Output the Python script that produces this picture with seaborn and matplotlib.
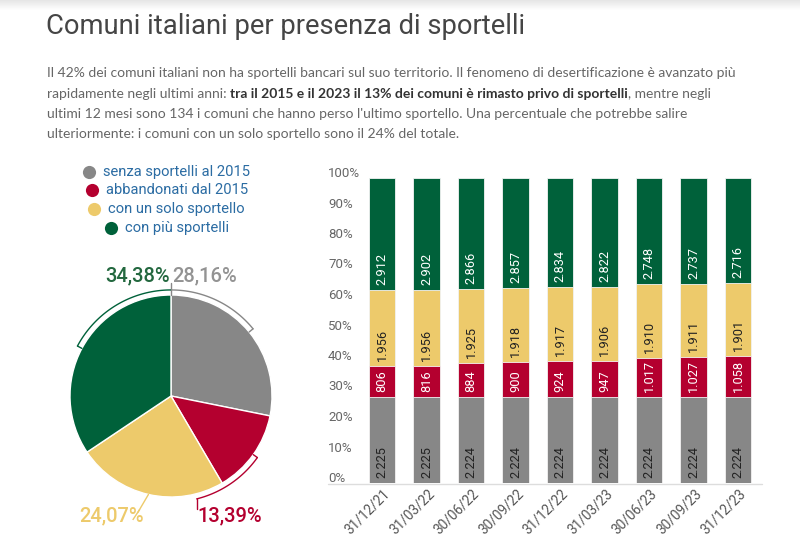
import matplotlib
matplotlib.use("Agg")
import matplotlib.pyplot as plt
import seaborn as sns
import numpy as np
import pandas as pd
from matplotlib import transforms

# ---------------- data ----------------
dates = ["31/12/21", "31/03/22", "30/06/22", "30/09/22", "31/12/22",
         "31/03/23", "30/06/23", "30/09/23", "31/12/23"]
senza = [2225, 2225, 2224, 2224, 2224, 2224, 2224, 2224, 2224]
abbandonati = [806, 816, 884, 900, 924, 947, 1017, 1027, 1058]
solo = [1956, 1956, 1925, 1918, 1917, 1906, 1910, 1911, 1901]
piu = [2912, 2902, 2866, 2857, 2834, 2822, 2748, 2737, 2716]

series_names = ["senza sportelli al 2015", "abbandonati dal 2015",
                "con un solo sportello", "con più sportelli"]
pie_values = [28.16, 13.39, 24.07, 34.38]
pie_text = ["28,16%", "13,39%", "24,07%", "34,38%"]
y_ticks = [0, 10, 20, 30, 40, 50, 60, 70, 80, 90, 100]

colors = ["#878787", "#B4002F", "#EDCA6B", "#00613A"]
label_colors = ["#939393", "#B4002F", "#EDCA6B", "#23683F"]
seg_text_colors = ["#222222", "#ffffff", "#222222", "#ffffff"]

title = "Comuni italiani per presenza di sportelli"
body_lines = [
    [("Il 42% dei comuni italiani non ha sportelli bancari sul suo territorio. Il fenomeno di desertificazione è avanzato più", False)],
    [("rapidamente negli ultimi anni:", False), (" ", False),
     ("tra il 2015 e il 2023 il 13% dei comuni è rimasto privo di sportelli", True),
     (", mentre negli", False)],
    [("ultimi 12 mesi sono 134 i comuni che hanno perso l'ultimo sportello. Una percentuale che potrebbe salire", False)],
    [("ulteriormente: i comuni con un solo sportello sono il 24% del totale.", False)],
]

# ---------------- setup ----------------
sns.set_theme(style="white")
plt.rcParams['font.family'] = ['Roboto', 'DejaVu Sans']

W, H = 800, 553
fig = plt.figure(figsize=(W / 100, H / 100), dpi=100)
fig.patch.set_facecolor("white")

# overlay axes in pixel coordinates (for text / legend / furniture)
ov = fig.add_axes([0, 0, 1, 1])
ov.set_xlim(0, W)
ov.set_ylim(H, 0)
ov.axis("off")

# faint top shadow
grad = np.linspace(0.90, 1.0, 50).reshape(-1, 1)
ov.imshow(np.dstack([grad, grad, grad]), extent=[0, W, 10, 0], aspect="auto", zorder=0)

# title
ov.text(46, 27, title, fontsize=19.7, color="#454545", va="center", ha="left",
        family=["Roboto", "DejaVu Sans"])

# body text with inline bold
renderer = fig.canvas.get_renderer()
body_font = ["Lato", "DejaVu Sans"]
body_size = 10.0
line_y = [73, 94, 114, 134]
for ly, pieces in zip(line_y, body_lines):
    x = 47.0
    for txt, bold in pieces:
        if txt == " ":
            a = ov.text(0, 0, "x x", fontsize=body_size, family=body_font)
            b = ov.text(0, 0, "xx", fontsize=body_size, family=body_font)
            x += a.get_window_extent(renderer).width - b.get_window_extent(renderer).width
            a.remove(); b.remove()
            continue
        t = ov.text(x, ly, txt, fontsize=body_size, family=body_font,
                    fontweight="bold" if bold else "normal",
                    color="#333333" if bold else "#666666", va="center", ha="left")
        x += t.get_window_extent(renderer).width

# legend
leg_y = [172, 190, 209, 228]
leg_cx = [89, 92, 94, 111]
for i, name in enumerate(series_names):
    ov.scatter([leg_cx[i]], [leg_y[i]], s=90, color=colors[i], zorder=3, linewidths=0)
    ov.text(leg_cx[i] + 14, leg_y[i], name, fontsize=10.6, color="#2B6CA3",
            va="center", ha="left")

# baseline of the bar chart
ov.plot([328, 762], [483.5, 483.5], color="#dddddd", lw=1, zorder=1)

# ---------------- pie ----------------
cx, cy, r = 171, 396, 101
ax_pie = fig.add_axes([(cx - r) / W, 1 - (cy + r) / H, 2 * r / W, 2 * r / H])
ax_pie.pie(pie_values, colors=colors, startangle=90, counterclock=False,
           wedgeprops=dict(edgecolor="white", linewidth=1))
ax_pie.set_xlim(-1, 1)
ax_pie.set_ylim(-1, 1)
ax_pie.axis("off")

# slice angles
cum = np.cumsum([0] + pie_values)
starts = 90 - cum[:-1] * 3.6
ends = 90 - cum[1:] * 3.6
mids = (starts + ends) / 2
R2 = 1.05


def arc_pts(a0, a1, rr, n=60):
    th = np.radians(np.linspace(a0, a1, n))
    return rr * np.cos(th), rr * np.sin(th)


# gray: arc from mid to top
xs, ys = arc_pts(mids[0], 90, R2)
ax_pie.plot(xs, ys, color=colors[0], lw=1, clip_on=False)
m = np.radians(mids[0])
ax_pie.plot([np.cos(m), R2 * np.cos(m)], [np.sin(m), R2 * np.sin(m)], color=colors[0], lw=1, clip_on=False)
# green: arc from top to mid
xs, ys = arc_pts(90, mids[3] + 360 if mids[3] < 0 else mids[3], R2)
ax_pie.plot(xs, ys, color=colors[3], lw=1, clip_on=False)
m = np.radians(mids[3])
ax_pie.plot([np.cos(m), R2 * np.cos(m)], [np.sin(m), R2 * np.sin(m)], color=colors[3], lw=1, clip_on=False)
# shared vertical tick at top
ax_pie.plot([0, 0], [1.0, 1.12], color=colors[0], lw=1, clip_on=False)
# red: arc from mid down to -76, then vertical
xs, ys = arc_pts(mids[1], -76, R2)
ax_pie.plot(xs, ys, color=colors[1], lw=1, clip_on=False)
m = np.radians(mids[1])
ax_pie.plot([np.cos(m), R2 * np.cos(m)], [np.sin(m), R2 * np.sin(m)], color=colors[1], lw=1, clip_on=False)
ax_pie.plot([xs[-1], xs[-1]], [ys[-1], -1.12], color=colors[1], lw=1, clip_on=False)
# yellow: straight connector
m = np.radians(mids[2])
ax_pie.plot([np.cos(m), 1.2 * np.cos(m - np.radians(3))], [np.sin(m), 1.2 * np.sin(m - np.radians(3))],
            color=colors[2], lw=1, clip_on=False)

lab_pos = [(0.01, 1.19, "left"), (0.26, -1.19, "left"), (-0.27, -1.19, "right"), (-0.01, 1.19, "right")]
for i, (lx, ly, ha) in enumerate(lab_pos):
    ax_pie.text(lx, ly, pie_text[i], color=label_colors[i], fontsize=14.5, ha=ha, va="center",
                fontweight="medium", clip_on=False)

# ---------------- stacked bars ----------------
df = pd.DataFrame({"date": dates, "senza": senza, "abbandonati": abbandonati,
                   "solo": solo, "piu": piu})
cols = ["senza", "abbandonati", "solo", "piu"]
tot = df[cols].sum(axis=1)
pct = df[cols].div(tot, axis=0) * 100
cum_pct = pct.cumsum(axis=1)

ax_bar = fig.add_axes([360 / W, 1 - 483 / H, (762 - 360) / W, (483 - 178) / H])
ax_bar.set_facecolor("none")
for j in reversed(range(4)):
    sns.barplot(x=df["date"], y=cum_pct[cols[j]], color=colors[j], saturation=1,
                width=0.6, errorbar=None, ax=ax_bar, edgecolor="#f4f4f4", linewidth=0.6,
                order=dates)

ax_bar.set_xlim(-0.494, 8.54)
ax_bar.set_ylim(0, 100)
ax_bar.set_xlabel("")
ax_bar.set_ylabel("")
for s in ax_bar.spines.values():
    s.set_visible(False)

# segment value labels
for j in range(4):
    bottoms = (cum_pct[cols[j]] - pct[cols[j]]).values
    vals = df[cols[j]].values
    for i in range(len(dates)):
        ax_bar.annotate(f"{vals[i]:,}".replace(",", "."), xy=(i, bottoms[i]),
                        xytext=(0, 3.6), textcoords="offset points",
                        rotation=90, rotation_mode="anchor", ha="left", va="center",
                        fontsize=9.2, color=seg_text_colors[j])

# y ticks
ax_bar.set_yticks(y_ticks)
ax_bar.set_yticklabels([f"{v}%" for v in y_ticks])
ax_bar.tick_params(axis="y", length=0, pad=23, labelsize=9.5, labelcolor="#666666")
up = transforms.ScaledTranslation(0, 6 / 100, fig.dpi_scale_trans)
for lab in ax_bar.get_yticklabels():
    lab.set_ha("left")
    lab.set_transform(lab.get_transform() + up)

# x ticks
ax_bar.set_xticks(range(len(dates)))
ax_bar.set_xticklabels(dates)
ax_bar.tick_params(axis="x", length=0, pad=6, labelsize=9.8, labelcolor="#555555")
shift = transforms.ScaledTranslation(6 / 100, 0, fig.dpi_scale_trans)
for lab in ax_bar.get_xticklabels():
    lab.set_rotation(45)
    lab.set_ha("right")
    lab.set_va("center")
    lab.set_rotation_mode("anchor")
    lab.set_transform(lab.get_transform() + shift)

fig.savefig("out.png", dpi=100, facecolor="white")
